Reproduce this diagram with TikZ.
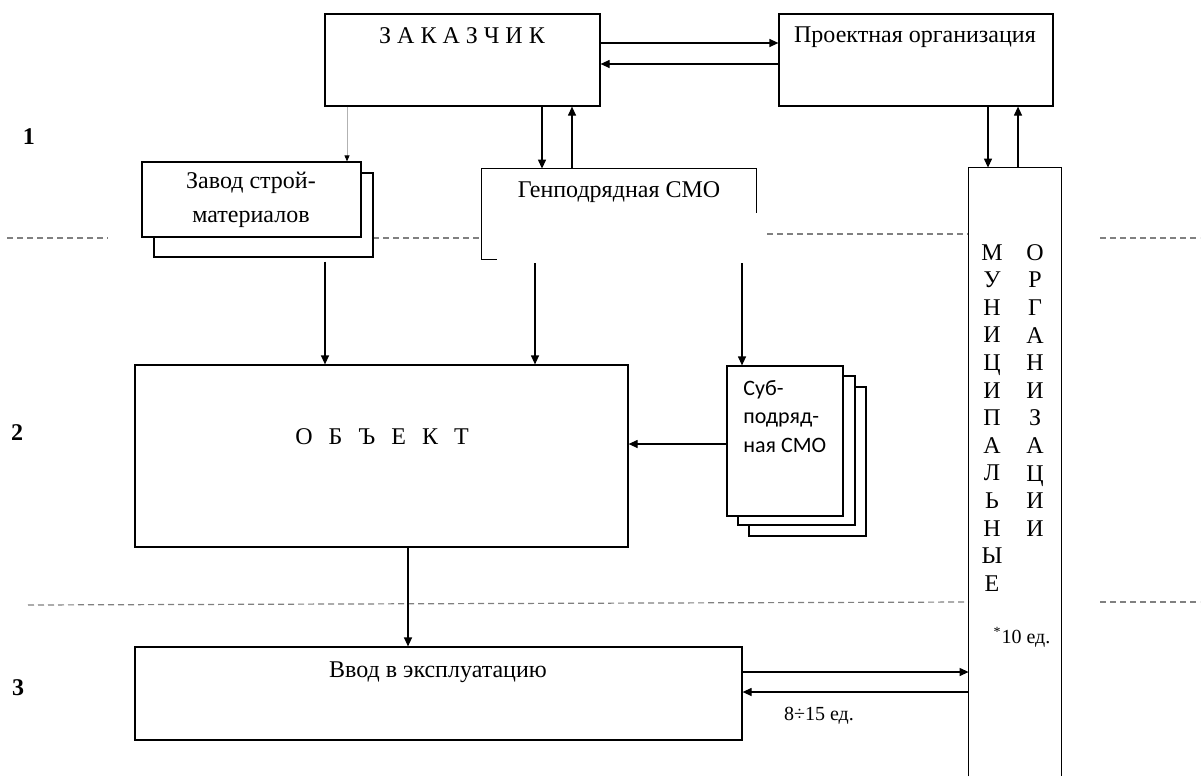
\documentclass[tikz,border=0pt]{standalone}
\usepackage{fontspec}
\setmainfont{Liberation Serif}
\newfontfamily\subfont{Carlito}
\usetikzlibrary{arrows.meta, positioning, fit}

\tikzset{
	blockbox/.style={
			draw=black,
			line width=0.6pt,
			fill=white,
			inner sep=0pt
		},
	shapebox/.style={
			draw=none,
			inner sep=0pt
		},
	flowarrow/.style={
			draw=black,
			line width=0.6pt,
			-{Triangle[length=4.5pt,width=4pt]}
		},
	levelline/.style={
			draw=gray,
			line width=0.6pt,
			dash pattern=on 3pt off 2pt
		},
	boxtext/.style={
			font=\fontsize{12}{14}\selectfont,
			inner sep=0pt
		},
	notetext/.style={
			font=\fontsize{10}{12}\selectfont,
			inner sep=0pt
		},
	levelnum/.style={
			font=\fontsize{12}{14}\selectfont\bfseries,
			inner sep=0pt
		}
}

\begin{document}
\begin{tikzpicture}[x=0.5pt, y=-0.5pt]
\useasboundingbox (0,0) rectangle (1204,776);

% levels
\draw[levelline] (7,238) -- (108,238);
\draw[levelline] (373,238) -- (482,238);
\draw[levelline] (767,234) -- (969,234);
\draw[levelline] (1100,238) -- (1200,238);
\draw[levelline] (28,605) -- (969,602);
\draw[levelline] (1100,602) -- (1200,602);

\node[levelnum] (l1) at (29,137) {1};
\node[levelnum] (l2) at (17,433) {2};
\node[levelnum] (l3) at (18,688) {3};

% level 1
\node[blockbox, fit={(325,14) (600,106)}] (zak) {};
\node[boxtext] (zakt) at (462,36) {З А К А З Ч И К};

\node[blockbox, fit={(779,14) (1053,106)}] (proj) {};
\node[boxtext] (projt) at (915,37) {Проектная организация};

\node[blockbox, fit={(154,173) (373,257)}] (zavodB) {};
\node[blockbox, fit={(142,162) (361,237)}] (zavod) {};
\node[boxtext, align=center, font=\fontsize{12}{17}\selectfont] (zavodt) at (251,200) {Завод строй-\\материалов};

\node[shapebox, fit={(482,169) (756,259)}] (genp) {};
\draw[line width=0.6pt] ([xshift=7.5pt]genp.south west) -- (genp.south west) -- (genp.north west)
  -- (genp.north east) -- ([yshift=-22pt]genp.north east);
\node[boxtext] (genpt) at (619,192) {Генподрядная СМО};

% level 2
\node[blockbox, fit={(135,365) (628,547)}] (obj) {};
\node[boxtext] (objt) at (382,437) {О\hspace{8pt}Б\hspace{8pt}Ъ\hspace{8pt}Е\hspace{8pt}К\hspace{8pt}Т};

\node[blockbox, fit={(749,387) (866,536)}] (sub3) {};
\node[blockbox, fit={(738,376) (855,525)}] (sub2) {};
\node[blockbox, fit={(727,366) (843,516)}] (sub) {};
\node[inner sep=0pt, align=left, anchor=north west, font=\subfont\fontsize{11}{14.3}\selectfont] (subt) at (743,380) {Суб-\\подряд-\\ная СМО};

% level 3
\node[blockbox, fit={(135,647) (742,740)}] (vvod) {};
\node[boxtext] (vvodt) at (438,672) {Ввод в эксплуатацию};

% municipal bodies
\node[shapebox, fit={(969,168) (1061,776)}] (mun) {};
\draw[line width=0.6pt] (mun.south west) -- (mun.north west) -- (mun.north east) -- (mun.south east);
\node[boxtext, align=center, anchor=north, font=\fontsize{12}{13.8}\selectfont] (muna) at (992,244)
  {М\\У\\Н\\И\\Ц\\И\\П\\А\\Л\\Ь\\Н\\Ы\\Е};
\node[boxtext, align=center, anchor=north, font=\fontsize{12}{13.8}\selectfont] (munb) at (1035,244)
  {О\\Р\\Г\\А\\Н\\И\\З\\А\\Ц\\И\\И};
\node[notetext] (munnote) at (1022,637) {\textsuperscript{*}10 ед.};
\node[notetext] (vvodnote) at (819,716) {8÷15 ед.};

% connectors
\draw[flowarrow] (zak.east |- 0,43) -- (proj.west |- 0,43);
\draw[flowarrow] (proj.west |- 0,64) -- (zak.east |- 0,64);
\draw[flowarrow] (zak.south -| 542,0) -- (genp.north -| 542,0);
\draw[flowarrow] (genp.north -| 572,0) -- (zak.south -| 572,0);
\draw[flowarrow] (proj.south -| 988,0) -- (mun.north -| 988,0);
\draw[flowarrow] (mun.north -| 1018,0) -- (proj.south -| 1018,0);
\draw[thin, gray!60, -{Triangle[length=3pt,width=2.5pt,black]}] (zak.south -| 347,0) -- (zavod.north -| 347,0);

\draw[flowarrow] (zavodB.south -| 325,0) ++(0,4) -- (obj.north -| 325,0);
\draw[flowarrow] (genp.south -| 535,0) ++(0,4) -- (obj.north -| 535,0);
\draw[flowarrow] (genp.south -| 742,0) ++(0,4) -- (sub.north -| 742,0);
\draw[flowarrow] (sub.west |- 0,444) -- (obj.east |- 0,444);
\draw[flowarrow] (obj.south -| 408,0) -- (vvod.north -| 408,0);
\draw[flowarrow] (vvod.east |- 0,672) -- (mun.west |- 0,672);
\draw[flowarrow] (mun.west |- 0,692) -- (vvod.east |- 0,692);

\end{tikzpicture}
\end{document}
